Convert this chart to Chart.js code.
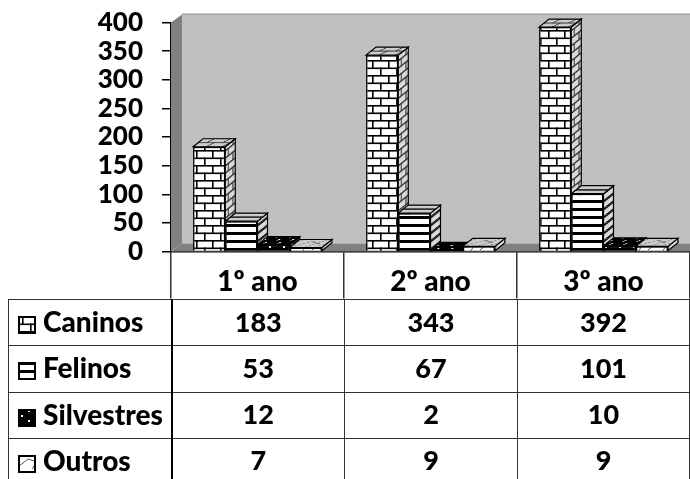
<!DOCTYPE html>
<html>
<head>
<meta charset="utf-8">
<title>Atendimentos por ano</title>
<script src="https://cdn.jsdelivr.net/npm/chart.js@4/dist/chart.umd.min.js"></script>
<style>
  html, body { margin: 0; padding: 0; background: #fff; overflow: hidden; }
  #wrap { position: relative; width: 690px; height: 479px; }
  #chart { position: absolute; left: 0; top: 0; }
  table {
    position: absolute; left: 8px; top: 299px; width: 681px;
    border-collapse: collapse; table-layout: fixed;
    font: 900 27px Lato, sans-serif; color: #000;
  }
  td { border: 1.5px solid #333; height: 46.3px; padding: 0 0 3px; box-sizing: border-box; text-align: center; }
  tr:last-child td { border-bottom: none; height: 42px; padding: 0; }
  td:first-child { text-align: left; white-space: nowrap; border-right: 2px solid #000; font-size: 28px; }
  td.name, tr:last-child td.name { padding-left: 9px; }
  td canvas { vertical-align: -2px; margin-right: 7px; }
</style>
</head>
<body>
<div id="wrap">
  <canvas id="chart" width="690" height="479"></canvas>
  <table id="dataTable"></table>
</div>
<script>
const categories = ['1º ano', '2º ano', '3º ano'];
const seriesNames = ['Caninos', 'Felinos', 'Silvestres', 'Outros'];
const caninos = [183, 343, 392];
const felinos = [53, 67, 101];
const silvestres = [12, 2, 10];
const outros = [7, 9, 9];
const yTicks = [0, 50, 100, 150, 200, 250, 300, 350, 400];

const seriesValues = [caninos, felinos, silvestres, outros];

// Fill patterns
const makeTile = (w, h, draw) => {
    const c = document.createElement('canvas');
    c.width = w;
    c.height = h;
    const g = c.getContext('2d');
    g.fillStyle = '#fff';
    g.fillRect(0, 0, w, h);
    g.fillStyle = '#000';
    g.strokeStyle = '#000';
    draw(g);
    return c;
};

const brickTile = makeTile(16, 15, (g) => {
    g.fillRect(0, 0, 16, 1.6);
    g.fillRect(0, 7.5, 16, 1.6);
    g.fillRect(4, 0, 1.6, 8);
    g.fillRect(12, 7.5, 1.6, 8);
});
const stripeTile = makeTile(8, 8, (g) => {
    g.fillRect(0, 0, 8, 3);
});
const dotTile = makeTile(14, 10, (g) => {
    g.fillRect(0, 0, 14, 10);
    g.fillStyle = '#fff';
    g.fillRect(3, 6, 2, 2);
    g.fillRect(10, 1, 2, 2);
});
const divotTile = makeTile(24, 14, (g) => {
    g.strokeStyle = '#555';
    g.lineWidth = 1;
    g.beginPath();
    g.moveTo(0, 12);
    g.lineTo(10, 4);
    g.lineTo(22, 8);
    g.moveTo(14, 14);
    g.lineTo(22, 2);
    g.stroke();
});
const tiles = [brickTile, stripeTile, dotTile, divotTile];

const ctx = document.getElementById('chart').getContext('2d');
const patterns = tiles.map(t => ctx.createPattern(t, 'repeat'));

const DEPTH_X = 10;
const DEPTH_Y = 8;

// Walls, floor, and the top and side of each bar
const box3d = {
    id: 'box3d',
    beforeDatasetsDraw(chart) {
        const c = chart.ctx;
        const { left, right, top, bottom } = chart.chartArea;
        const wx = DEPTH_X + 1;

        c.save();
        c.fillStyle = '#c0c0c0';
        c.fillRect(left + wx, top - DEPTH_Y, right - left - wx, bottom - top);
        c.fillStyle = '#a0a0a0';
        c.fillRect(left + wx, top - DEPTH_Y - 1, right - left - wx, 1.5);

        c.fillStyle = '#808080';
        c.beginPath();
        c.moveTo(left, top);
        c.lineTo(left + wx, top - DEPTH_Y);
        c.lineTo(left + wx, bottom - DEPTH_Y);
        c.lineTo(left, bottom);
        c.closePath();
        c.fill();

        c.beginPath();
        c.moveTo(left, bottom);
        c.lineTo(left + wx, bottom - DEPTH_Y);
        c.lineTo(right, bottom - DEPTH_Y);
        c.lineTo(right, bottom);
        c.closePath();
        c.fill();
        c.restore();

        categories.forEach((cat, j) => {
            chart.data.datasets.forEach((ds, i) => {
                const bar = chart.getDatasetMeta(i).data[j];
                const x0 = bar.x - bar.width / 2;
                const x1 = bar.x + bar.width / 2;
                const y = bar.y;
                const b = bar.base;

                // side
                c.save();
                c.beginPath();
                c.moveTo(x1, y);
                c.lineTo(x1 + DEPTH_X, y - DEPTH_Y);
                c.lineTo(x1 + DEPTH_X, b - DEPTH_Y);
                c.lineTo(x1, b);
                c.closePath();
                c.save();
                c.clip();
                c.transform(0.6, -DEPTH_Y / DEPTH_X * 0.6, 0, 1, x1, 0);
                c.fillStyle = patterns[i];
                c.fillRect(0, y - DEPTH_Y - 20, DEPTH_X / 0.6 + 1, b - y + 40);
                c.restore();
                c.fillStyle = 'rgba(128,128,128,0.3)';
                c.fill();
                c.strokeStyle = '#000';
                c.lineWidth = 1.2;
                c.stroke();
                c.restore();

                // top
                c.save();
                c.beginPath();
                c.moveTo(x0, y);
                c.lineTo(x1, y);
                c.lineTo(x1 + DEPTH_X, y - DEPTH_Y);
                c.lineTo(x0 + DEPTH_X, y - DEPTH_Y);
                c.closePath();
                c.save();
                c.clip();
                c.transform(1, 0, -DEPTH_X / DEPTH_Y, 0.6, x0, y);
                c.fillStyle = patterns[i];
                c.fillRect(-20, -20, bar.width + 40, 24);
                c.restore();
                if (i !== 2) {
                    c.fillStyle = 'rgba(128,128,128,0.4)';
                    c.fill();
                }
                c.strokeStyle = '#000';
                c.lineWidth = 1.2;
                c.stroke();
                c.restore();
            });
        });
    }
};

new Chart(ctx, {
    type: 'bar',
    data: {
        labels: categories,
        datasets: seriesNames.map((name, i) => ({
            label: name,
            data: seriesValues[i],
            backgroundColor: patterns[i],
            borderColor: '#000',
            borderWidth: 1.5,
            categoryPercentage: 0.745,
            barPercentage: 1
        }))
    },
    options: {
        responsive: false,
        animation: false,
        layout: { padding: { top: 22.5, right: 0, bottom: 0, left: 0 } },
        plugins: { legend: { display: false }, tooltip: { enabled: false } },
        scales: {
            x: {
                offset: true,
                border: { color: '#000', width: 1.5 },
                grid: { offset: true, drawOnChartArea: false, tickLength: 47, color: '#333', lineWidth: 1.5 },
                ticks: {
                    color: '#000',
                    padding: -33,
                    maxRotation: 0,
                    font: { family: 'Lato, sans-serif', weight: '900', size: 28 }
                },
                afterFit(scale) { scale.height = 227.5; }
            },
            y: {
                min: 0,
                max: 400,
                border: { color: '#000', width: 1.5 },
                grid: { drawOnChartArea: false, tickLength: 9, color: '#000', lineWidth: 1.5 },
                afterBuildTicks(scale) { scale.ticks = yTicks.map(v => ({ value: v })); },
                ticks: {
                    color: '#000',
                    padding: 19,
                    autoSkip: false,
                    font: { family: 'Lato, sans-serif', weight: '900', size: 26 }
                },
                afterFit(scale) {
                    scale.width = 171;
                    scale.paddingTop = 0;
                    scale.paddingBottom = 0;
                }
            }
        }
    },
    plugins: [box3d]
});

// Data table under the plot
const dataTable = document.getElementById('dataTable');
const colgroup = document.createElement('colgroup');
[163, 173, 173, 172].forEach(w => {
    const col = document.createElement('col');
    col.style.width = w + 'px';
    colgroup.appendChild(col);
});
dataTable.appendChild(colgroup);

seriesNames.forEach((name, i) => {
    const row = dataTable.insertRow();
    const head = row.insertCell();
    head.className = 'name';
    const swatch = document.createElement('canvas');
    swatch.width = 18;
    swatch.height = 18;
    const s = swatch.getContext('2d');
    s.fillStyle = s.createPattern(tiles[i], 'repeat');
    s.fillRect(0, 0, 18, 18);
    s.strokeStyle = '#000';
    s.lineWidth = 2;
    s.strokeRect(1, 1, 16, 16);
    head.appendChild(swatch);
    head.appendChild(document.createTextNode(name));
    seriesValues[i].forEach(v => {
        row.insertCell().textContent = v;
    });
});
</script>
</body>
</html>
